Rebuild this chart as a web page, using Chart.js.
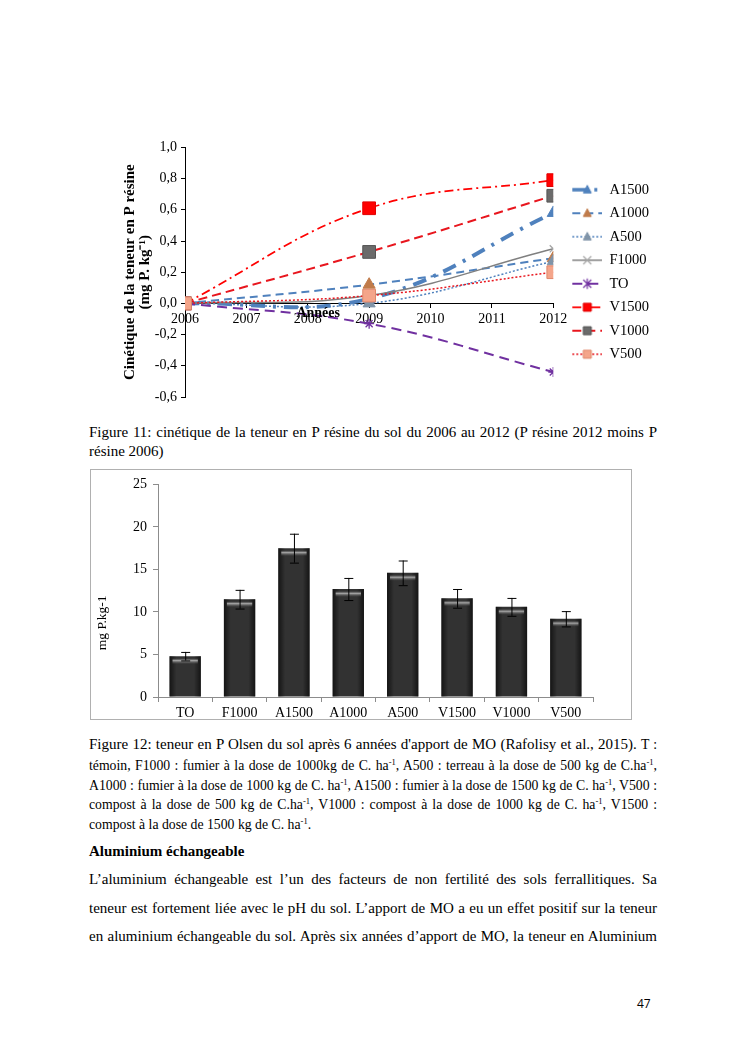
<!DOCTYPE html>
<html lang="fr">
<head>
<meta charset="utf-8">
<title>Figures 11 et 12</title>
<script src="https://cdn.jsdelivr.net/npm/chart.js@4.4.1/dist/chart.umd.min.js"></script>
<style>
  html, body { margin: 0; padding: 0; background: #fff; }
  body { position: relative; width: 745px; height: 1053px; overflow: hidden;
         font-family: "Liberation Serif", "Times New Roman", serif; color: #000; }
  .ln { position: absolute; left: 89px; white-space: nowrap; font-size: 15px; line-height: 19px; }
  .sm { font-size: 13.75px; }
  .b { font-weight: bold; }
  sup { font-size: 62%; line-height: 0; vertical-align: 0.6em; }
  #lineBox { position: absolute; left: 105px; top: 135px; width: 560px; height: 282px; }
  #barBox { position: absolute; left: 90px; top: 469px; width: 540px; height: 249px; border: 1px solid #b0b0b0; }
  .pg { position: absolute; left: 637px; top: 995px; font-family: "Open Sans", "Liberation Sans", sans-serif; font-size: 12px; }
</style>
</head>
<body>

<div id="lineBox"><canvas id="resineChart"></canvas></div>

<div class="ln j" style="top:423px">Figure 11: cinétique de la teneur en P résine du sol du 2006 au 2012 (P résine 2012 moins P</div>
<div class="ln" style="top:442px">résine 2006)</div>

<div id="barBox"><canvas id="olsenChart"></canvas></div>

<div class="ln j" style="top:735px">Figure 12: teneur en P Olsen du sol après 6 années d'apport de MO (Rafolisy et al., 2015). <span class="sm">T :</span></div>
<div class="ln sm j" style="top:756px">témoin, F1000 : fumier à la dose de 1000kg de C. ha<sup>-1</sup>, A500 : terreau à la dose de 500 kg de C.ha<sup>-1</sup>,</div>
<div class="ln sm j" style="top:776px">A1000 : fumier à la dose de 1000 kg de C. ha<sup>-1</sup>, A1500 : fumier à la dose de 1500 kg de C. ha<sup>-1</sup>, V500 :</div>
<div class="ln sm j" style="top:795px">compost à la dose de 500 kg de C.ha<sup>-1</sup>, V1000 : compost à la dose de 1000 kg de C. ha<sup>-1</sup>, V1500 :</div>
<div class="ln sm" style="top:815px">compost à la dose de 1500 kg de C. ha<sup>-1</sup>.</div>

<div class="ln b" style="top:842px">Aluminium échangeable</div>
<div class="ln j" style="top:870px">L’aluminium échangeable est l’un des facteurs de non fertilité des sols ferrallitiques. Sa</div>
<div class="ln j" style="top:899px">teneur est fortement liée avec le pH du sol. L’apport de MO a eu un effet positif sur la teneur</div>
<div class="ln j" style="top:927px">en aluminium échangeable du sol. Après six années d’apport de MO, la teneur en Aluminium</div>

<div class="pg">47</div>

<script>
// Figure 11 : P résine (écart à 2006), mg P.kg-1
const years = [2006, 2009, 2012];
const seriesNames = ["A1500", "A1000", "A500", "F1000", "TO", "V1500", "V1000", "V500"];
const pA1500 = [0, 0.03, 0.58];
const pA1000 = [0, 0.12, 0.29];
const pA500 = [0, 0.0, 0.27];
const pF1000 = [0, 0.05, 0.35];
const pTO = [0, -0.13, -0.44];
const pV1500 = [0, 0.61, 0.79];
const pV1000 = [0, 0.33, 0.69];
const pV500 = [0, 0.05, 0.2];
const resineMin = -0.6, resineMax = 1.0, resineStep = 0.2;

// Figure 12 : P Olsen après 6 ans
const treatments = ["TO", "F1000", "A1500", "A1000", "A500", "V1500", "V1000", "V500"];
const olsenP = [4.8, 11.5, 17.5, 12.7, 14.6, 11.6, 10.6, 9.2];
const olsenErr = [0.5, 1.1, 1.7, 1.3, 1.45, 1.1, 1.05, 0.9];

const seriesValues = { A1500: pA1500, A1000: pA1000, A500: pA500, F1000: pF1000,
                       TO: pTO, V1500: pV1500, V1000: pV1000, V500: pV500 };

// styles (excel-like)
const styles = {
  A1500: { color: "#4F81BD", width: 4, dash: [14, 8, 3, 8], marker: "triangle", fill: "#4F81BD", edge: "#4F81BD", r: 7 },
  A1000: { color: "#4F81BD", width: 2, dash: [8, 5], marker: "triangle", fill: "#C07B4A", edge: "#C07B4A", r: 7 },
  A500:  { color: "#4F81BD", width: 1.5, dash: [2, 2], marker: "triangle", fill: "#8094A8", edge: "#8094A8", r: 7 },
  F1000: { color: "#808080", width: 1.5, dash: [], marker: "crossRot", fill: "#A6A6A6", edge: "#A6A6A6", r: 5 },
  TO:    { color: "#7030A0", width: 2, dash: [10, 6], marker: "star", fill: "#7030A0", edge: "#7030A0", r: 5 },
  V1500: { color: "#FF0000", width: 1.75, dash: [9, 4, 2, 4], marker: "rect", fill: "#FF0000", edge: "#E00000", r: 9 },
  V1000: { color: "#E8161E", width: 2, dash: [9, 5], marker: "rect", fill: "#6B6B6B", edge: "#555555", r: 9 },
  V500:  { color: "#E8161E", width: 1.5, dash: [2, 2], marker: "rect", fill: "#F4A58A", edge: "#E0876A", r: 9 }
};

Chart.defaults.font.family = '"Liberation Serif", "Times New Roman", serif';
Chart.defaults.color = "#000";

function drawMarker(g, s, x, y, r) {
  g.setLineDash([]);
  g.fillStyle = s.fill;
  g.strokeStyle = s.edge;
  g.lineWidth = 1;
  g.beginPath();
  if (s.marker === "rect") {
    g.rect(x - r, y - r, 2 * r, 2 * r);
    g.fill(); g.stroke();
  } else if (s.marker === "triangle") {
    g.moveTo(x, y - r * 1.1); g.lineTo(x + r, y + r * 0.8); g.lineTo(x - r, y + r * 0.8);
    g.closePath(); g.fill(); g.stroke();
  } else {
    g.lineWidth = 1.2;
    g.moveTo(x - r, y - r); g.lineTo(x + r, y + r);
    g.moveTo(x + r, y - r); g.lineTo(x - r, y + r);
    if (s.marker === "star") {
      g.moveTo(x, y - r * 1.3); g.lineTo(x, y + r * 1.3);
    }
    g.stroke();
  }
}

// small canvas used as the legend sample: line + marker like excel
function legendIcon(name) {
  const s = styles[name];
  const c = document.createElement("canvas");
  c.width = 40; c.height = 14;
  const g = c.getContext("2d");
  g.strokeStyle = s.color;
  g.lineWidth = Math.min(s.width, 3.5);
  g.setLineDash(s.dash);
  g.beginPath(); g.moveTo(10, 7); g.lineTo(40, 7); g.stroke();
  drawMarker(g, s, 25, 7, 4);
  return c;
}

const lineSets = seriesNames.map((name, i) => {
  const s = styles[name];
  return {
    label: name,
    data: years.map((yr, k) => ({ x: yr, y: seriesValues[name][k] })),
    borderColor: s.color,
    borderWidth: s.width,
    borderDash: s.dash,
    pointStyle: s.marker,
    pointRadius: s.r,
    pointBackgroundColor: s.fill,
    pointBorderColor: s.edge,
    pointBorderWidth: s.marker === "crossRot" || s.marker === "star" ? 1.3 : 1,
    tension: 0.4,
    fill: false,
    order: seriesNames.length - i
  };
});

const fmtComma = v => (Math.abs(v) < 1e-9 ? 0 : v).toFixed(1).replace(".", ",");

// "Années" sits on the axis, left of centre, like in the original
const anneesLabel = {
  id: "anneesLabel",
  afterDraw(chart) {
    const { ctx, scales: { x, y } } = chart;
    ctx.save();
    ctx.font = 'bold 14px "Liberation Serif", serif';
    ctx.fillStyle = "#000";
    ctx.textAlign = "center";
    ctx.textBaseline = "middle";
    ctx.fillText("Années", x.getPixelForValue(2008.17), y.getPixelForValue(0) + 10);
    ctx.restore();
  }
};

new Chart(document.getElementById("resineChart"), {
  type: "line",
  data: { datasets: lineSets },
  options: {
    responsive: true,
    maintainAspectRatio: false,
    animation: false,
    layout: { padding: { left: 12, top: 12, right: 6, bottom: 20 } },
    scales: {
      x: {
        type: "linear",
        position: { y: 0 },
        min: years[0],
        max: years[years.length - 1],
        ticks: { stepSize: 1, padding: 4, font: { size: 14 }, callback: v => String(v) },
        grid: { drawOnChartArea: false, tickLength: 4, color: "#000" },
        border: { color: "#000" }
      },
      y: {
        min: resineMin,
        max: resineMax,
        ticks: { stepSize: resineStep, padding: 4, font: { size: 14 }, callback: fmtComma },
        grid: { drawOnChartArea: false, tickLength: 4, color: "#000" },
        border: { color: "#000" },
        title: {
          display: true,
          text: ["Cinétique de la teneur en P résine", "(mg P. kg⁻¹)"],
          font: { size: 15, weight: "bold", lineHeight: 1.0 },
          padding: { top: 6, bottom: 0 }
        },
        afterFit: s => { s.width = 68; }
      }
    },
    plugins: {
      legend: {
        position: "right",
        labels: {
          usePointStyle: true,
          pointStyleWidth: 40,
          boxHeight: 14,
          padding: 9,
          font: { size: 14.5 },
          generateLabels: chart => chart.data.datasets.map((ds, i) => ({
            text: ds.label,
            pointStyle: legendIcon(ds.label),
            datasetIndex: i,
            hidden: false,
            lineWidth: 0,
            fillStyle: "transparent",
            strokeStyle: "transparent",
            fontColor: "#000"
          }))
        }
      },
      tooltip: { enabled: false }
    }
  },
  plugins: [anneesLabel]
});

// shading, highlight and error bars for figure 12
const barDecor = {
  id: "barDecor",
  afterDatasetsDraw(chart) {
    const ctx = chart.ctx;
    const yScale = chart.scales.y;
    ctx.save();
    chart.getDatasetMeta(0).data.forEach((bar, i) => {
      const { x, y, base, width } = bar.getProps(["x", "y", "base", "width"], true);
      const left = x - width / 2;
      const side = ctx.createLinearGradient(left, 0, left + width, 0);
      side.addColorStop(0, "rgba(0,0,0,0.6)");
      side.addColorStop(0.22, "rgba(0,0,0,0)");
      side.addColorStop(0.78, "rgba(0,0,0,0)");
      side.addColorStop(1, "rgba(0,0,0,0.6)");
      ctx.fillStyle = side;
      ctx.fillRect(left, y, width, base - y);
      const hi = ctx.createLinearGradient(0, y + 2, 0, y + 8);
      hi.addColorStop(0, "rgba(120,120,120,0)");
      hi.addColorStop(0.4, "rgba(185,185,185,0.85)");
      hi.addColorStop(1, "rgba(90,90,90,0)");
      ctx.fillStyle = hi;
      ctx.fillRect(left + 3, y + 2, width - 6, 6);

      const top = yScale.getPixelForValue(olsenP[i] + olsenErr[i]);
      const bot = yScale.getPixelForValue(olsenP[i] - olsenErr[i]);
      ctx.strokeStyle = "#000";
      ctx.lineWidth = 1;
      ctx.beginPath();
      ctx.moveTo(x + 0.5, top); ctx.lineTo(x + 0.5, bot);
      ctx.moveTo(x - 4, top + 0.5); ctx.lineTo(x + 5, top + 0.5);
      ctx.moveTo(x - 4, bot + 0.5); ctx.lineTo(x + 5, bot + 0.5);
      ctx.stroke();
    });
    ctx.restore();
  }
};

new Chart(document.getElementById("olsenChart"), {
  type: "bar",
  data: {
    labels: treatments,
    datasets: [{
      data: olsenP,
      backgroundColor: "#323232",
      borderColor: "#111",
      borderWidth: 0,
      barPercentage: 0.72,
      categoryPercentage: 0.8
    }]
  },
  options: {
    responsive: true,
    maintainAspectRatio: false,
    animation: false,
    layout: { padding: { left: 2, top: 7, right: 38, bottom: 2 } },
    scales: {
      x: {
        ticks: { padding: 3, font: { size: 14 } },
        grid: { drawOnChartArea: false, tickLength: 5, color: "#8c8c8c" },
        border: { color: "#8c8c8c" },
        afterFit: s => { s.height = 20; }
      },
      y: {
        min: 0,
        max: 25,
        ticks: { stepSize: 5, padding: 6, font: { size: 14 } },
        grid: { drawOnChartArea: false, tickLength: 5, color: "#8c8c8c" },
        border: { color: "#8c8c8c" },
        // trailing no-break spaces push the rotated label down, as in the original
        title: { display: true, text: "mg P.kg-1" + "\u00A0".repeat(19), font: { size: 13.5 }, padding: { top: 1, bottom: 0 } },
        afterFit: s => { s.width = 65; }
      }
    },
    plugins: { legend: { display: false }, tooltip: { enabled: false } }
  },
  plugins: [barDecor]
});

// justify single lines to the text block width like the word document
document.querySelectorAll(".j").forEach(el => {
  const w = el.getBoundingClientRect().width;
  const spaces = (el.textContent.match(/ /g) || []).length;
  if (spaces) el.style.wordSpacing = ((568 - w) / spaces) + "px";
});
</script>
</body>
</html>
